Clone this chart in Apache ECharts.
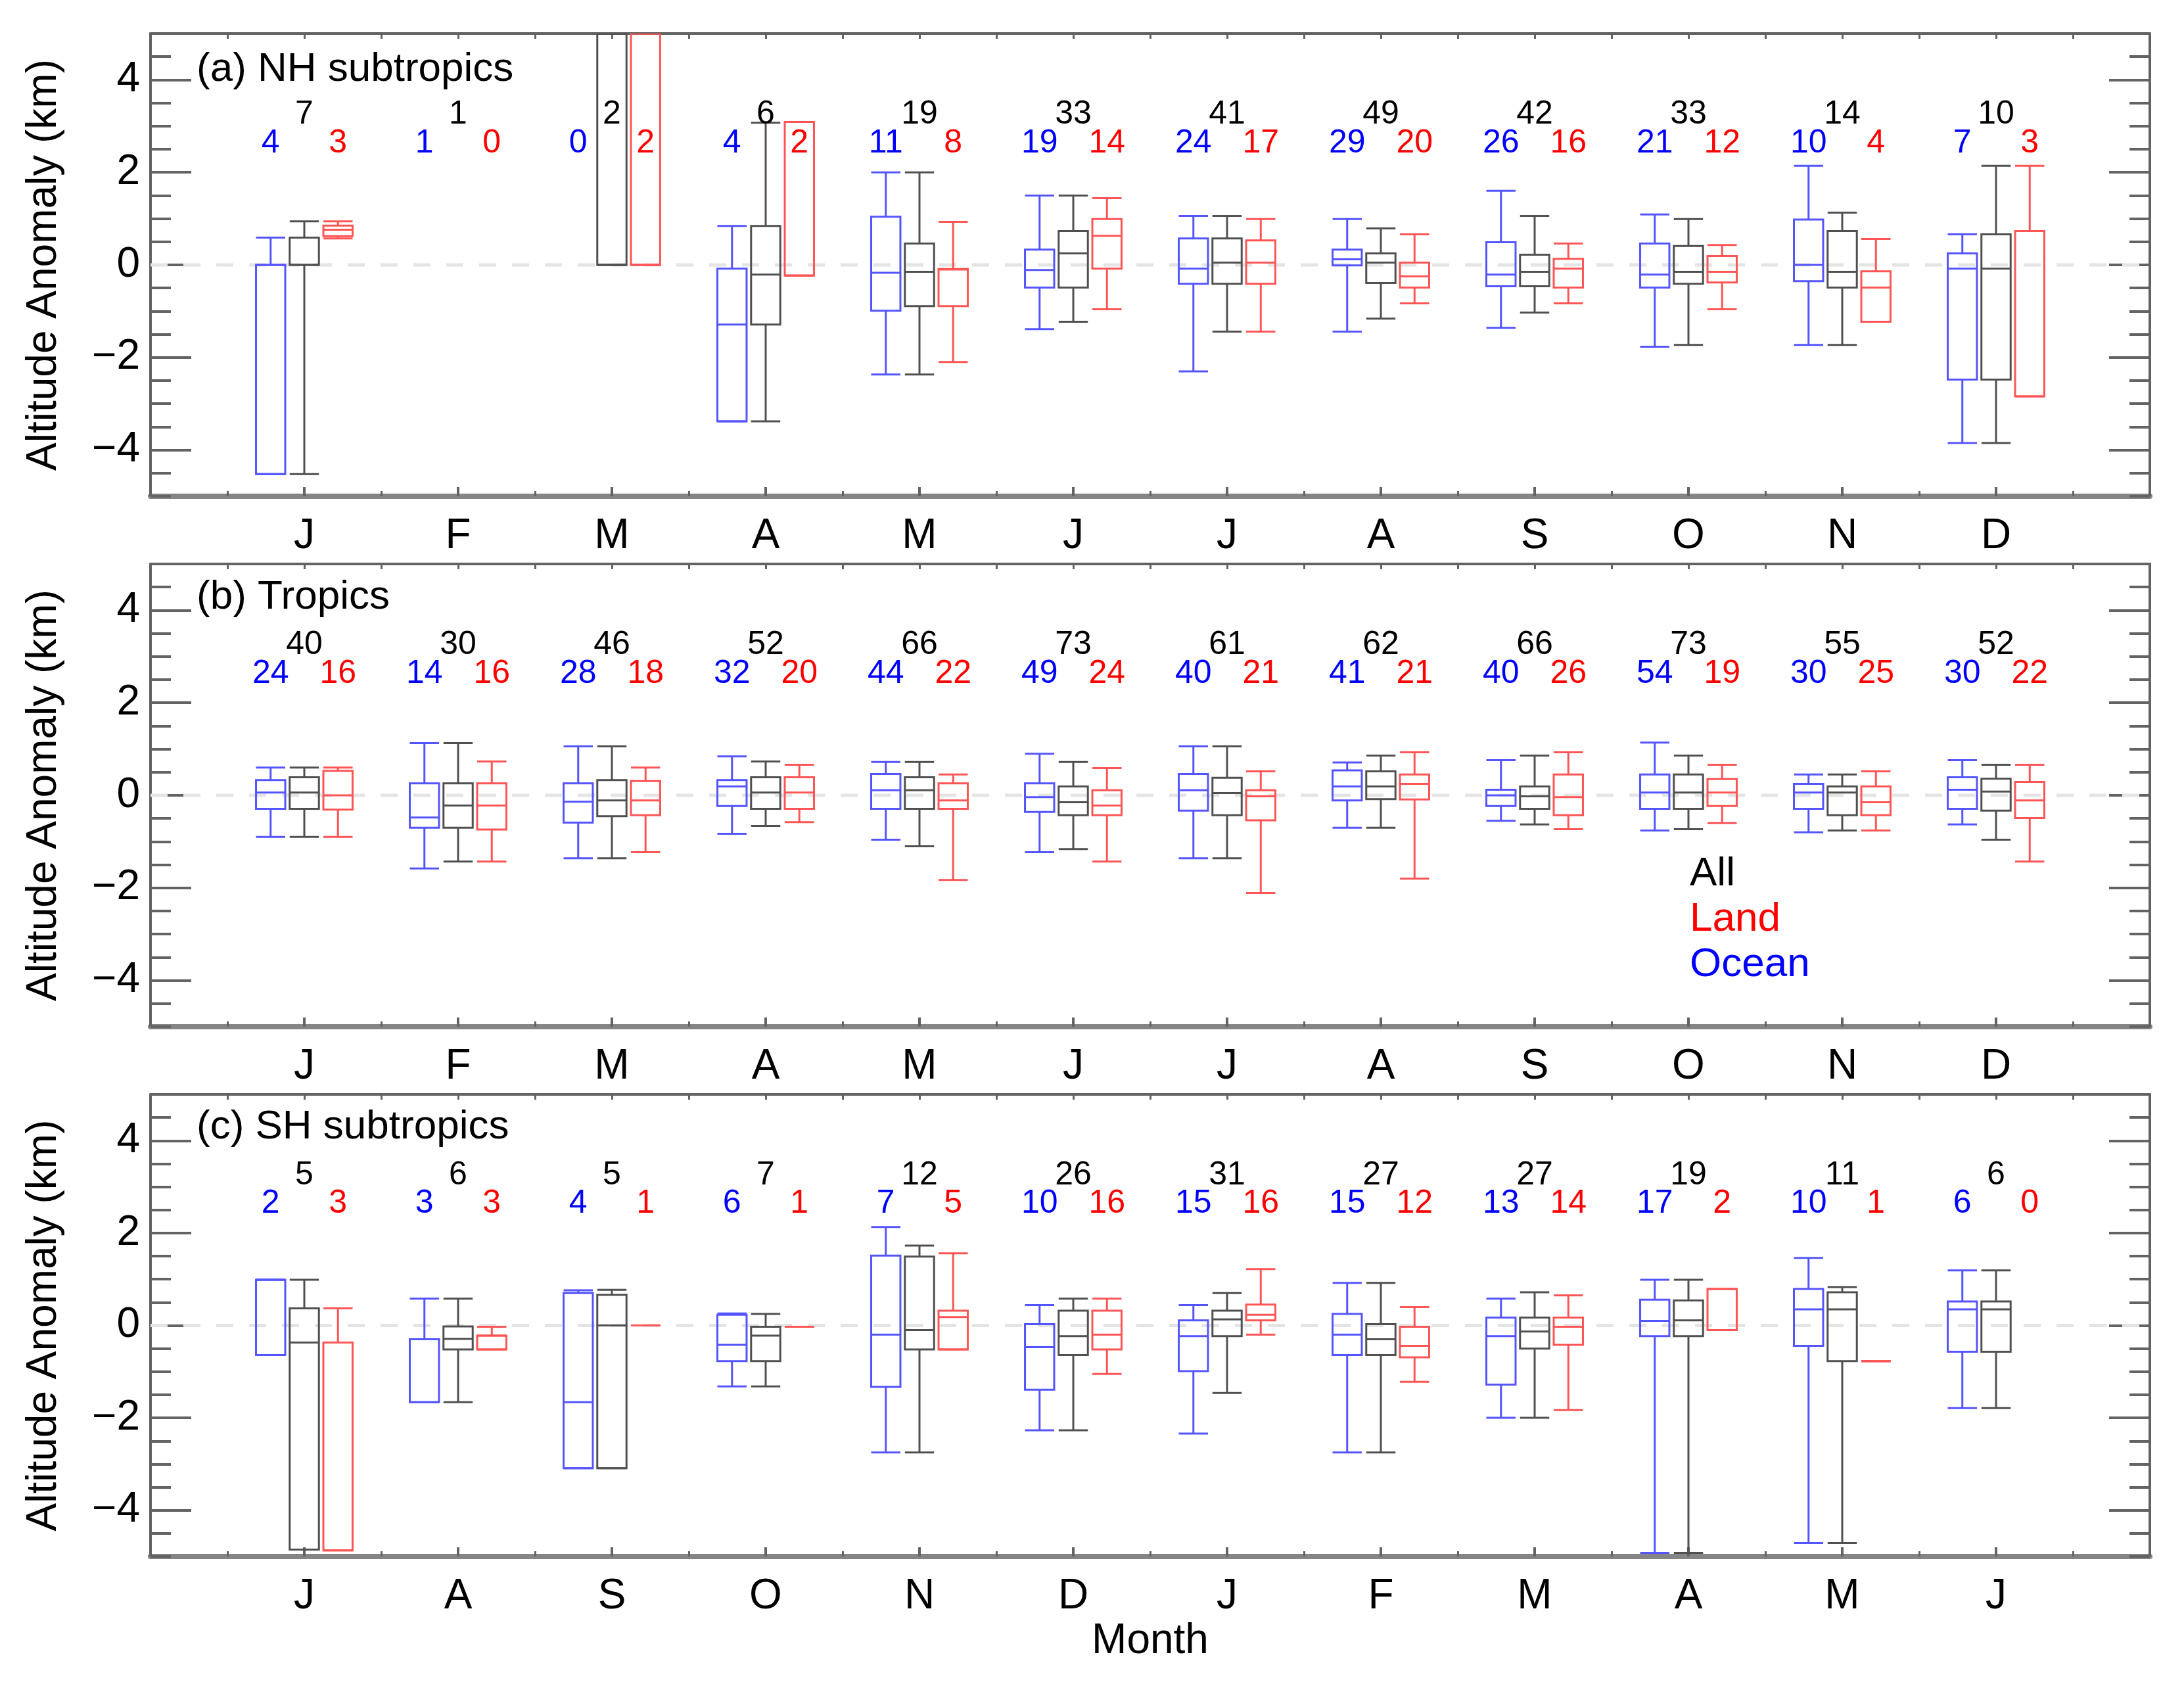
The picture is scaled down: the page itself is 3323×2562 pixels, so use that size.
<!DOCTYPE html>
<html>
<head>
<meta charset="utf-8">
<script src="https://cdn.jsdelivr.net/npm/echarts@6/dist/echarts.min.js"></script>
<style>html,body{margin:0;padding:0;background:#fff}#c{width:3323px;height:2562px}</style>
</head>
<body>
<div id="c"></div>
<script>
// ---------------- DATA ----------------
const monthsNH = ['J','F','M','A','M','J','J','A','S','O','N','D'];
const monthsTR = ['J','F','M','A','M','J','J','A','S','O','N','D'];
const monthsSH = ['J','A','S','O','N','D','J','F','M','A','M','J'];

// box values: [min, q1, median, q3, max] in km; null = no box drawn
const nhOcean = [
  [-4.52,-4.52,0,0,0.59], null, null,
  [-3.38,-3.38,-1.29,-0.08,0.84],
  [-2.37,-0.99,-0.17,1.04,2.0],
  [-1.39,-0.49,-0.11,0.33,1.5],
  [-2.3,-0.41,-0.08,0.57,1.06],
  [-1.44,-0.01,0.12,0.33,0.99],
  [-1.36,-0.46,-0.21,0.49,1.6],
  [-1.77,-0.49,-0.21,0.46,1.09],
  [-1.73,-0.35,0.0,0.98,2.14],
  [-3.85,-2.48,-0.08,0.25,0.66]
];
const nhAll = [
  [-4.52,0,0,0.59,0.94], null,
  [0,0,0,5,5],
  [-3.38,-1.29,-0.21,0.84,3.07],
  [-2.37,-0.89,-0.15,0.46,2.0],
  [-1.23,-0.49,0.25,0.73,1.5],
  [-1.44,-0.41,0.05,0.57,1.06],
  [-1.16,-0.39,0.05,0.25,0.79],
  [-1.03,-0.46,-0.15,0.22,1.06],
  [-1.73,-0.41,-0.15,0.41,0.99],
  [-1.73,-0.49,-0.15,0.73,1.13],
  [-3.85,-2.48,-0.08,0.66,2.14]
];
const nhLand = [
  [0.57,0.62,0.76,0.85,0.94], null,
  [0,0,0,5,5],
  [-0.23,-0.23,-0.23,3.09,3.09],
  [-2.1,-0.89,-0.1,-0.09,0.93],
  [-0.96,-0.08,0.63,0.99,1.44],
  [-1.44,-0.41,0.05,0.53,0.99],
  [-0.83,-0.49,-0.25,0.05,0.66],
  [-0.83,-0.49,-0.08,0.13,0.46],
  [-0.96,-0.38,-0.15,0.19,0.43],
  [-1.23,-1.23,-0.49,-0.14,0.56],
  [-2.84,-2.84,0.73,0.73,2.14]
];
const nhCountAll   = [7,1,2,6,19,33,41,49,42,33,14,10];
const nhCountOcean = [4,1,0,4,11,19,24,29,26,21,10,7];
const nhCountLand  = [3,0,2,2,8,14,17,20,16,12,4,3];

const trOcean = [
  [-0.9,-0.29,0.06,0.33,0.6],
  [-1.58,-0.7,-0.48,0.26,1.13],
  [-1.36,-0.59,-0.14,0.26,1.06],
  [-0.83,-0.23,0.19,0.33,0.84],
  [-0.96,-0.29,0.11,0.46,0.72],
  [-1.23,-0.36,-0.04,0.26,0.9],
  [-1.36,-0.33,0.11,0.46,1.06],
  [-0.7,-0.11,0.19,0.54,0.71],
  [-0.55,-0.23,0.0,0.12,0.76],
  [-0.76,-0.29,0.06,0.45,1.14],
  [-0.8,-0.29,0.06,0.25,0.45],
  [-0.63,-0.29,0.12,0.39,0.76]
];
const trAll = [
  [-0.9,-0.29,0.06,0.39,0.6],
  [-1.43,-0.7,-0.22,0.26,1.13],
  [-1.36,-0.45,-0.11,0.33,1.06],
  [-0.66,-0.29,0.06,0.39,0.73],
  [-1.1,-0.29,0.11,0.39,0.72],
  [-1.16,-0.43,-0.15,0.19,0.72],
  [-1.36,-0.43,0.05,0.38,1.06],
  [-0.7,-0.08,0.19,0.52,0.86],
  [-0.63,-0.29,-0.02,0.19,0.86],
  [-0.73,-0.29,0.06,0.45,0.86],
  [-0.76,-0.43,0.06,0.19,0.45],
  [-0.96,-0.33,0.08,0.36,0.66]
];
const trLand = [
  [-0.9,-0.31,0.0,0.53,0.6],
  [-1.43,-0.74,-0.22,0.26,0.73],
  [-1.23,-0.43,-0.11,0.31,0.6],
  [-0.58,-0.29,0.06,0.39,0.66],
  [-1.83,-0.29,-0.11,0.26,0.45],
  [-1.43,-0.43,-0.22,0.11,0.59],
  [-2.11,-0.54,-0.02,0.11,0.52],
  [-1.8,-0.09,0.25,0.45,0.93],
  [-0.73,-0.43,-0.04,0.45,0.93],
  [-0.6,-0.23,0.06,0.35,0.66],
  [-0.76,-0.43,-0.15,0.19,0.52],
  [-1.43,-0.49,-0.11,0.29,0.66]
];
const trCountAll   = [40,30,46,52,66,73,61,62,66,73,55,52];
const trCountOcean = [24,14,28,32,44,49,40,41,40,54,30,30];
const trCountLand  = [16,16,18,20,22,24,21,21,26,19,25,22];

const shOcean = [
  [-0.64,-0.64,0.99,0.99,0.99],
  [-1.66,-1.66,-0.3,-0.3,0.58],
  [-3.09,-3.09,-1.66,0.7,0.76],
  [-1.32,-0.77,-0.42,0.23,0.26],
  [-2.75,-1.33,-0.2,1.51,2.13],
  [-2.27,-1.39,-0.47,0.03,0.44],
  [-2.34,-0.99,-0.23,0.11,0.44],
  [-2.75,-0.64,-0.2,0.25,0.92],
  [-2.0,-1.28,-0.23,0.17,0.58],
  [-4.92,-0.23,0.1,0.56,0.99],
  [-4.71,-0.44,0.35,0.79,1.46],
  [-1.79,-0.57,0.35,0.52,1.19]
];
const shAll = [
  [-4.85,-4.85,-0.37,0.37,0.99],
  [-1.66,-0.52,-0.29,-0.02,0.58],
  [-3.09,-3.09,0,0.66,0.77],
  [-1.32,-0.77,-0.22,-0.03,0.25],
  [-2.75,-0.52,-0.1,1.49,1.73],
  [-2.27,-0.64,-0.23,0.32,0.58],
  [-1.46,-0.23,0.13,0.32,0.7],
  [-2.75,-0.64,-0.3,0.03,0.92],
  [-2.0,-0.5,-0.13,0.17,0.72],
  [-4.92,-0.23,0.11,0.54,0.99],
  [-4.71,-0.77,0.35,0.72,0.83],
  [-1.79,-0.57,0.35,0.52,1.19]
];
const shLand = [
  [-4.87,-4.87,-0.37,-0.37,0.37],
  [-0.52,-0.52,-0.22,-0.22,-0.03],
  [0,0,0,0,0],
  [-0.03,-0.03,-0.03,-0.03,-0.03],
  [-0.52,-0.52,0.18,0.32,1.56],
  [-1.05,-0.52,-0.2,0.32,0.58],
  [-0.2,0.11,0.23,0.45,1.22],
  [-1.22,-0.69,-0.44,-0.03,0.4],
  [-1.83,-0.42,-0.03,0.17,0.65],
  [-0.1,-0.1,-0.1,0.79,0.79],
  [-0.77,-0.77,-0.77,-0.77,-0.77],
  null
];
const shCountAll   = [5,6,5,7,12,26,31,27,27,19,11,6];
const shCountOcean = [2,3,4,6,7,10,15,15,13,17,10,6];
const shCountLand  = [3,3,1,1,5,16,16,12,14,2,1,0];

const yTickLabels = [-4,-2,0,2,4];
const panelTitles = ['(a) NH subtropics','(b) Tropics','(c) SH subtropics'];
const legendItems = ['All','Land','Ocean'];

// ---------------- STYLE / LAYOUT ----------------
const FF = '"Liberation Sans", Arial, sans-serif';
const AX = '#636363';
const C_OCEAN = 'rgb(85,85,255)', C_ALL = 'rgb(80,80,80)', C_LAND = 'rgb(255,85,85)';
const T_OCEAN = '#0000ff', T_ALL = '#000000', T_LAND = '#ff0000';
const BOX_W = 0.19, OFF = 0.219;
const LEVEL_ALL = 3.25, LEVEL_SUB = 2.63;

const panels = [
  {months: monthsNH, ocean: nhOcean, all: nhAll, land: nhLand, cAll: nhCountAll, cOcean: nhCountOcean, cLand: nhCountLand, top: 51, height: 704},
  {months: monthsTR, ocean: trOcean, all: trAll, land: trLand, cAll: trCountAll, cOcean: trCountOcean, cLand: trCountLand, top: 858, height: 704},
  {months: monthsSH, ocean: shOcean, all: shAll, land: shLand, cAll: shCountAll, cOcean: shCountOcean, cLand: shCountLand, top: 1665, height: 703}
];
const titleY = [106, 909, 1715];

const grids = [], xAxes = [], yAxes = [], series = [];

function boxSeries(g, boxes, color, off) {
  const data = [];
  boxes.forEach((b, i) => { if (b) data.push([i + 1].concat(b)); });
  return {
    type: 'custom', xAxisIndex: 2 * g, yAxisIndex: 4 * g, clip: true, z: 5, silent: true,
    data: data,
    renderItem: function (params, api) {
      const x = api.value(0);
      const unit = api.size([1, 0])[0];
      const cx = api.coord([x, 0])[0] + off * unit;
      const hw = BOX_W * unit / 2;
      const Y = k => api.coord([x, api.value(k)])[1];
      const lo = Y(1), q1 = Y(2), md = Y(3), q3 = Y(4), hi = Y(5);
      const st = {stroke: color, lineWidth: 3, fill: 'none'};
      return {type: 'group', children: [
        {type: 'line', shape: {x1: cx, y1: q3, x2: cx, y2: hi}, style: st},
        {type: 'line', shape: {x1: cx, y1: q1, x2: cx, y2: lo}, style: st},
        {type: 'line', shape: {x1: cx - hw, y1: hi, x2: cx + hw, y2: hi}, style: st},
        {type: 'line', shape: {x1: cx - hw, y1: lo, x2: cx + hw, y2: lo}, style: st},
        {type: 'rect', shape: {x: cx - hw, y: Math.min(q1, q3), width: 2 * hw, height: Math.abs(q1 - q3)}, style: st},
        {type: 'line', shape: {x1: cx - hw, y1: md, x2: cx + hw, y2: md}, style: st}
      ]};
    }
  };
}

function countSeries(g, counts, color, off, level) {
  return {
    type: 'custom', xAxisIndex: 2 * g, yAxisIndex: 4 * g, z: 6, silent: true,
    data: counts.map((c, i) => [i + 1, c]),
    renderItem: function (params, api) {
      const x = api.value(0);
      const unit = api.size([1, 0])[0];
      const p = api.coord([x, level]);
      return {type: 'text', x: p[0] + off * unit, y: p[1], style: {
        text: String(api.value(1)), fill: color, font: '50px ' + FF,
        align: 'center', verticalAlign: 'middle', textAlign: 'center', textVerticalAlign: 'middle'}};
    }
  };
}

panels.forEach((P, g) => {
  grids.push({left: 229, width: 3042, top: P.top, height: P.height});
  const months = P.months;
  xAxes.push({
    gridIndex: g, type: 'value', min: 0, max: 13, interval: 1, position: 'bottom',
    axisLine: {show: true, onZero: false, lineStyle: {color: '#858585', width: 8}},
    axisTick: {show: true, inside: true, length: 14, lineStyle: {color: AX, width: 4}},
    minorTick: {show: true, splitNumber: 2, length: 8, lineStyle: {color: AX, width: 3}},
    axisLabel: {margin: 29, fontSize: 64, fontFamily: FF, color: '#000',
      formatter: v => months[Math.round(v) - 1] || ''},
    splitLine: {show: false}, minorSplitLine: {show: false},
    name: g === 2 ? 'Month' : '', nameLocation: 'middle', nameGap: 97,
    nameTextStyle: {fontSize: 64, fontFamily: FF, color: '#000'}
  });
  xAxes.push({
    gridIndex: g, type: 'value', min: 0, max: 13, interval: 1, position: 'top',
    axisLine: {show: true, onZero: false, lineStyle: {color: AX, width: 4}},
    axisTick: {show: true, inside: true, length: 8, lineStyle: {color: AX, width: 3}},
    minorTick: {show: true, splitNumber: 2, length: 8, lineStyle: {color: AX, width: 3}},
    axisLabel: {show: false}, splitLine: {show: false}
  });
  const yBase = {gridIndex: g, type: 'value', min: -5, max: 5, splitLine: {show: false}};
  ['left', 'right'].forEach(pos => {
    yAxes.push(Object.assign({}, yBase, {
      position: pos, interval: 1,
      axisLine: {show: true, onZero: false, lineStyle: {color: AX, width: 4}},
      axisTick: {show: true, inside: true, length: 62, customValues: yTickLabels, lineStyle: {color: AX, width: 4}},
      axisLabel: {show: pos === 'left', customValues: yTickLabels, margin: 16, fontSize: 64, fontFamily: FF, color: '#000',
        formatter: v => v < 0 ? '\u2212' + Math.abs(v) : String(v)},
      name: pos === 'left' ? 'Altitude Anomaly (km)' : '', nameLocation: 'middle', nameGap: 130, nameRotate: 90,
      nameTextStyle: {fontSize: 64, fontFamily: FF, color: '#000'}
    }));
    yAxes.push(Object.assign({}, yBase, {
      position: pos, interval: 0.5,
      axisLine: {show: false, onZero: false},
      axisTick: {show: true, inside: true, length: 31, lineStyle: {color: AX, width: 4}},
      axisLabel: {show: false}
    }));
  });

  series.push({
    type: 'line', xAxisIndex: 2 * g, yAxisIndex: 4 * g, data: [[0, 0], [13, 0]],
    symbol: 'none', silent: true, z: 1,
    lineStyle: {color: '#e4e4e4', width: 5, type: [26, 24]}
  });
  series.push(boxSeries(g, P.ocean, C_OCEAN, -OFF));
  series.push(boxSeries(g, P.all, C_ALL, 0));
  series.push(boxSeries(g, P.land, C_LAND, OFF));
  series.push(countSeries(g, P.cAll, T_ALL, 0, LEVEL_ALL));
  series.push(countSeries(g, P.cOcean, T_OCEAN, -OFF, LEVEL_SUB));
  series.push(countSeries(g, P.cLand, T_LAND, OFF, LEVEL_SUB));
});

const graphic = [];
panelTitles.forEach((t, g) => {
  graphic.push({type: 'text', x: 299, y: titleY[g], z: 10, style: {
    text: t, fill: '#000', font: '62px ' + FF,
    align: 'left', verticalAlign: 'middle', textAlign: 'left', textVerticalAlign: 'middle'}});
});
const legendColors = [T_ALL, T_LAND, T_OCEAN];
const legendY = [1330, 1399, 1468];
legendItems.forEach((t, i) => {
  graphic.push({type: 'text', x: 2571, y: legendY[i], z: 10, style: {
    text: t, fill: legendColors[i], font: '62px ' + FF,
    align: 'left', verticalAlign: 'middle', textAlign: 'left', textVerticalAlign: 'middle'}});
});

const chart = echarts.init(document.getElementById('c'), null, {renderer: 'canvas'});
chart.setOption({
  backgroundColor: '#fff',
  animation: false,
  grid: grids,
  xAxis: xAxes,
  yAxis: yAxes,
  series: series,
  graphic: graphic
});
</script>
</body>
</html>
